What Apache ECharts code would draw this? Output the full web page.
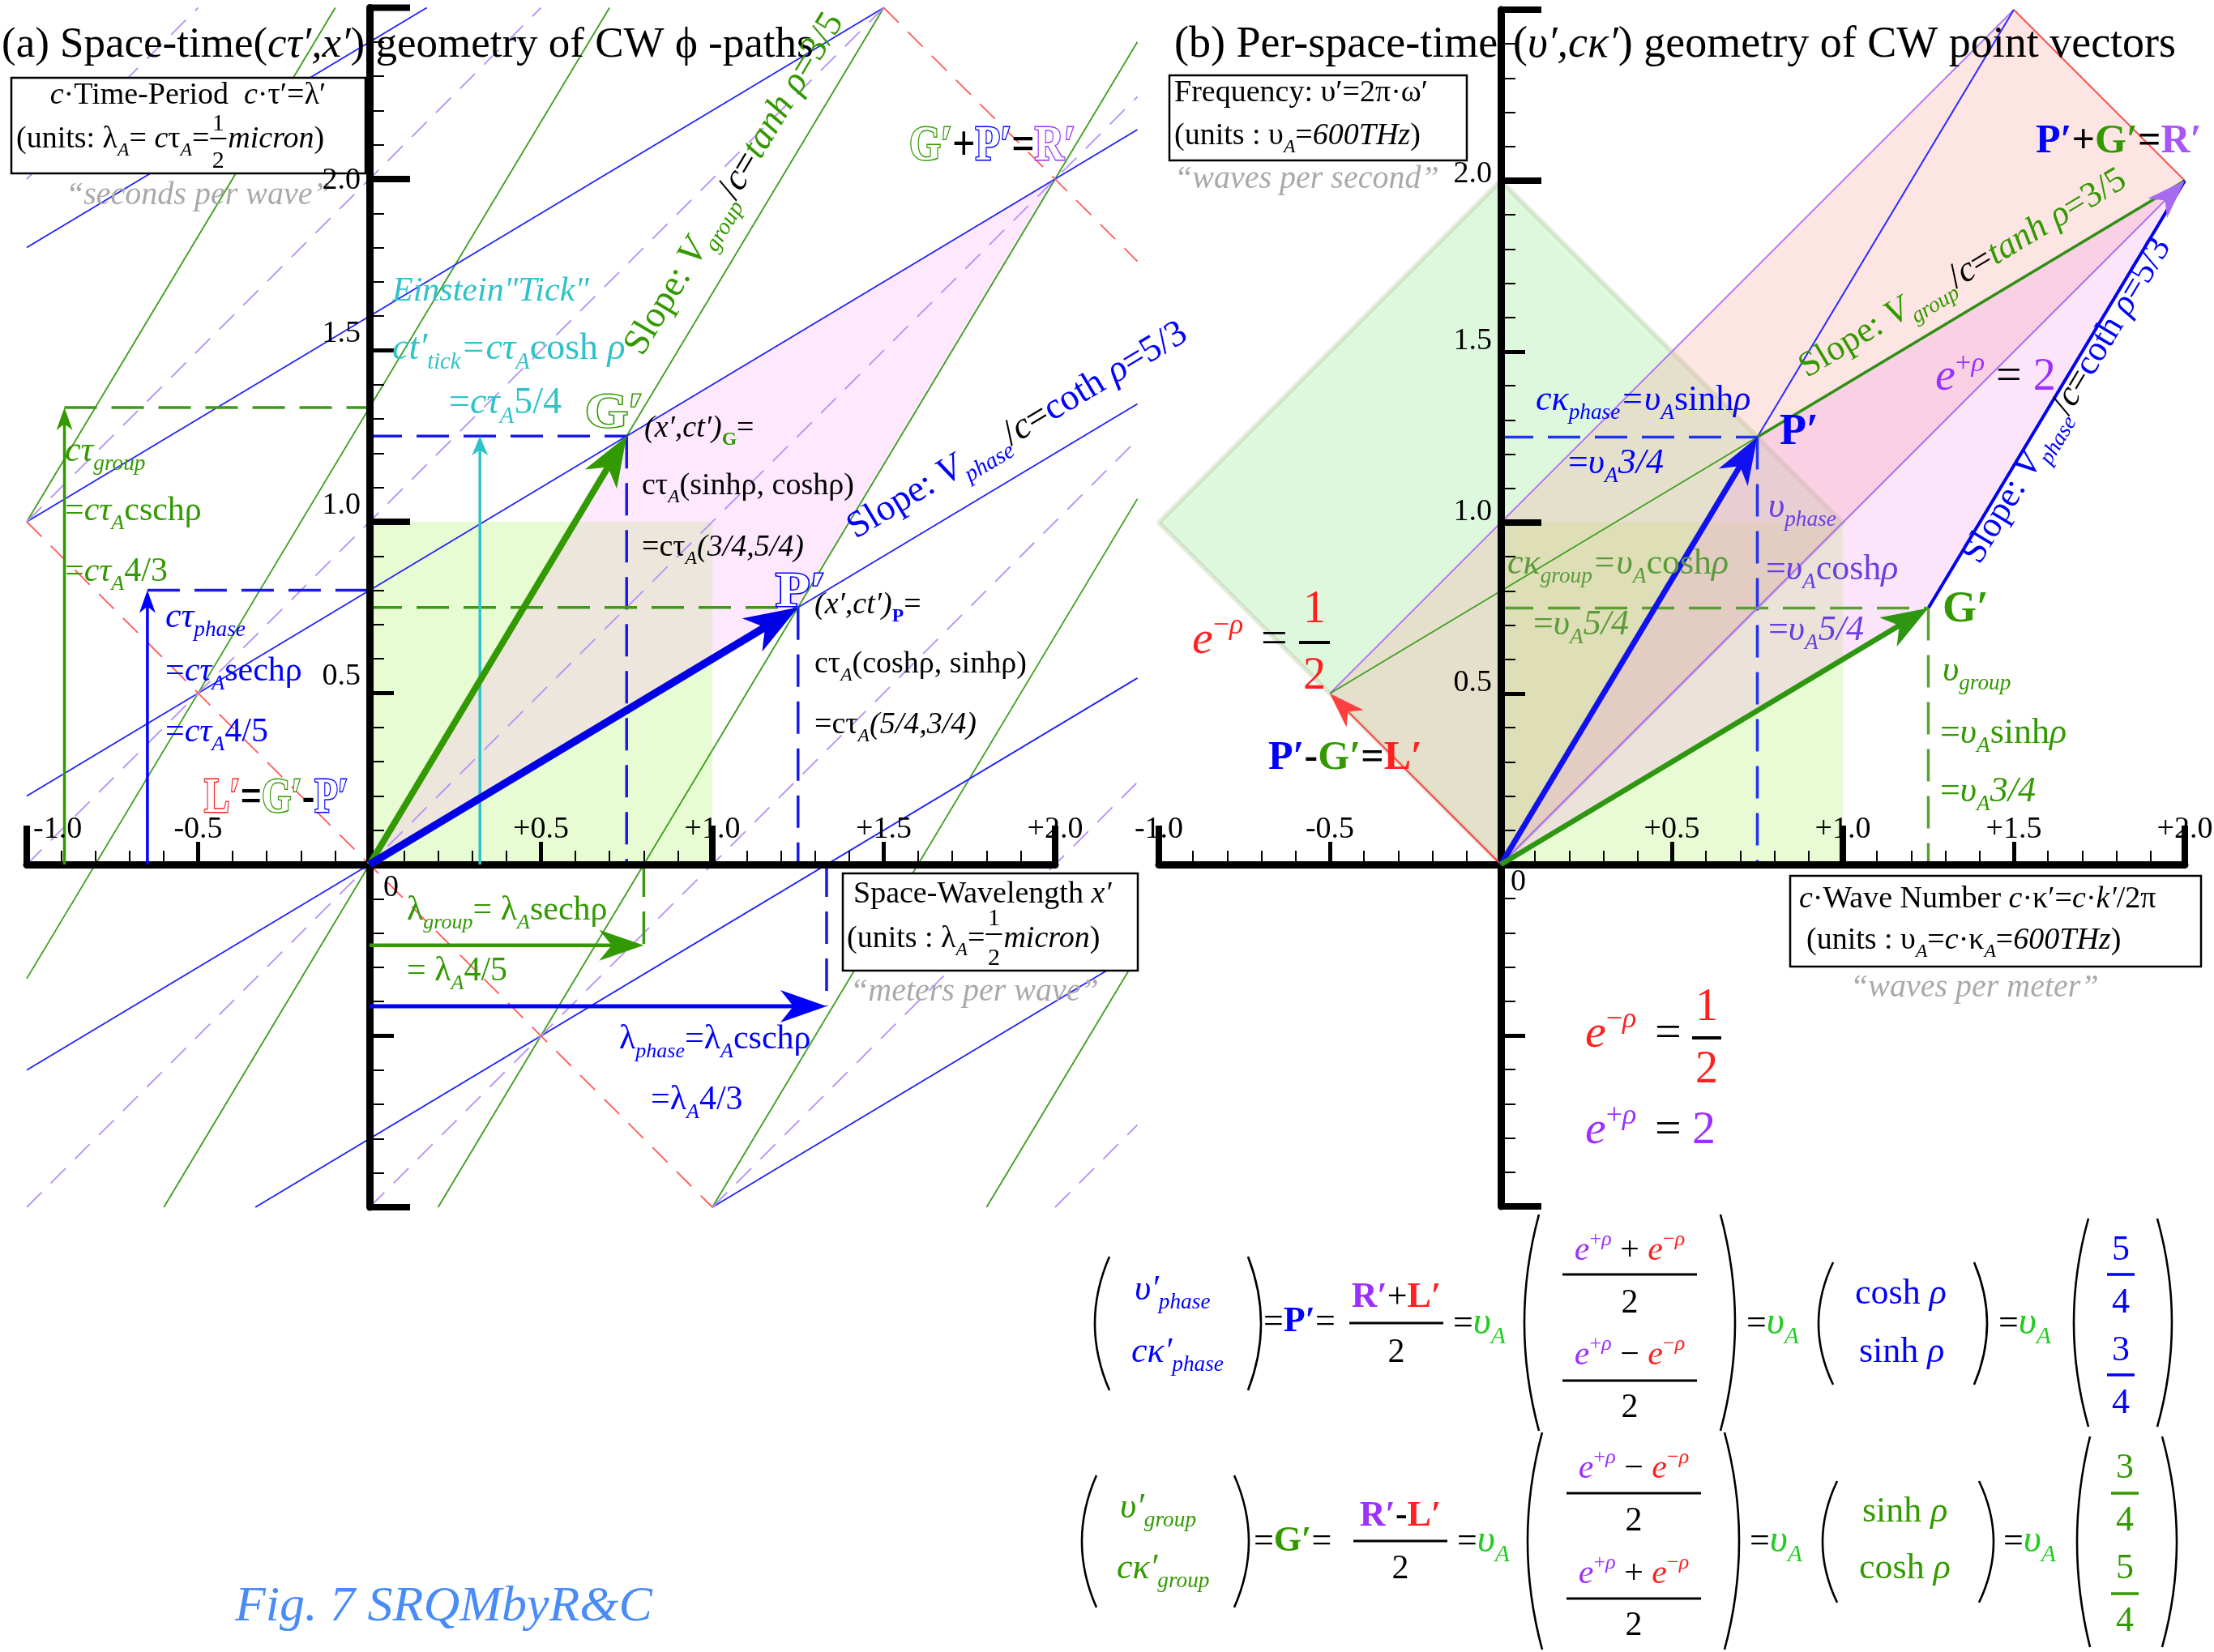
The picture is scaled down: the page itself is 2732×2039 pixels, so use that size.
<!DOCTYPE html>
<html>
<head>
<meta charset="utf-8">
<title>CW space-time and per-space-time geometry</title>
<script src="https://cdn.jsdelivr.net/npm/echarts@6/dist/echarts.min.js"></script>
<style>
html,body{margin:0;padding:0;background:#fff;}
#chart{width:2732px;height:2039px;}
</style>
</head>
<body>
<div id="chart"></div>
<script>
// ---------------- Panel (a): space-time (x′, cτ′), units cτ_A = λ_A ----------------
const ptG_a = [0.75, 1.25];      // (x′,ct′)_G = cτ_A(3/4, 5/4)
const ptP_a = [1.25, 0.75];      // (x′,ct′)_P = cτ_A(5/4, 3/4)
const ptR_a = [2.0, 2.0];        // G′+P′ = R′
const tauGroup = 1.3333;         // cτ_group = cτ_A·4/3
const tauPhase = 0.8;            // cτ_phase = cτ_A·4/5
const lambdaGroup = 0.8;         // λ_group = λ_A·4/5
const lambdaPhase = 1.3333;      // λ_phase = λ_A·4/3
const tickTime = 1.25;           // ct′_tick = cτ_A·5/4

// group world lines (slope 5/3) and phase fronts (slope 3/5): [x0, y0, x1, y1]
const groupLines = [
  [-1, 1, -0.1, 2.5], [-1, -0.333, 0.7, 2.5], [-0.6, -1, 1.5, 2.5],
  [0.2, -1, 2.24, 2.4], [1.0, -1, 2.24, 1.067], [1.8, -1, 2.24, -0.267]
];
const phaseLines = [
  [-1, 1.8, 0.167, 2.5], [-1, 1.0, 1.5, 2.5], [-1, 0.2, 2.24, 2.144],
  [-1, -0.6, 2.24, 1.344], [-0.333, -1, 2.24, 0.544], [1.0, -1, 2.24, -0.256]
];
// light-cone lines: right-moving (slope +1) and left-moving (slope −1)
const coneRight = [
  [-1, 2, -0.5, 2.5], [-1, 1, 0.5, 2.5], [-1, 0, 1.5, 2.5], [-1, -1, 2.24, 2.24],
  [0, -1, 2.24, 1.24], [1, -1, 2.24, 0.24], [2, -1, 2.24, -0.76]
];
const coneLeft = [[-1, 1, 1, -1], [1.5, 2.5, 2.24, 1.76]];

// ---------------- Panel (b): per-space-time (cκ′, υ′), units υ_A ----------------
const ptP_b = [0.75, 1.25];      // P′ = υ_A(sinhρ, coshρ)
const ptG_b = [1.25, 0.75];      // G′ = υ_A(coshρ, sinhρ)
const ptR_b = [2.0, 2.0];        // R′ = P′+G′
const ptL_b = [-0.5, 0.5];       // L′ = P′−G′
const ptRL_b = [1.5, 2.5];       // R′+L′ = 2P′

const unitSquare = [[0, 0], [1, 0], [1, 1], [0, 1]];
const unitDiamond = [[0, 0], [1, 1], [0, 2], [-1, 1]];

// axis ticks and labels
const xTickVals = [-1, -0.5, 0.5, 1, 1.5, 2];
const xTickText = ['-1.0', '-0.5', '+0.5', '+1.0', '+1.5', '+2.0'];
const yTickVals = [0.5, 1, 1.5, 2];
const yTickText = ['0.5', '1.0', '1.5', '2.0'];
const bigTicksX = [-1, 1, 2];
const bigTicksY = [-1, 1, 2, 2.5];

// ---------------- colours ----------------
const K = '#000000', BL = '#0000ff', GR = '#339900', RD = '#ff2020', PU = '#9b30ff',
      CY = '#2fc2c8', GY = '#a9a9a9', VI = '#6a3fe0', MG = '#5c9a3c', LG = '#22cc22';

const SERIF = '"Liberation Serif","Times New Roman",Times,serif';

// ---------------- series builders ----------------
function segSeries(gi, segs, st, z) {
  return {
    type: 'custom', coordinateSystem: 'cartesian2d', xAxisIndex: gi, yAxisIndex: gi,
    clip: false, silent: true, z: z, data: segs,
    renderItem: (p, api) => {
      const a = api.coord([api.value(0), api.value(1)]);
      const b = api.coord([api.value(2), api.value(3)]);
      return { type: 'line', shape: { x1: a[0], y1: a[1], x2: b[0], y2: b[1] },
        style: { stroke: st.color, lineWidth: st.width, lineDash: st.dash || null, lineCap: 'butt' } };
    }
  };
}
function polySeries(gi, polys, st, z) {
  return {
    type: 'custom', coordinateSystem: 'cartesian2d', xAxisIndex: gi, yAxisIndex: gi,
    clip: false, silent: true, z: z, data: polys.map(p => p.flat()),
    renderItem: (p, api) => {
      const n = polys[p.dataIndex].length, pts = [];
      for (let i = 0; i < n; i++) pts.push(api.coord([api.value(2 * i), api.value(2 * i + 1)]));
      return { type: 'polygon', shape: { points: pts },
        style: { fill: st.fill, stroke: st.stroke || null, lineWidth: st.lw || 0, lineJoin: 'round' } };
    }
  };
}
function arrowSeries(gi, segs, st, z) {
  return {
    type: 'custom', coordinateSystem: 'cartesian2d', xAxisIndex: gi, yAxisIndex: gi,
    clip: false, silent: true, z: z, data: segs,
    renderItem: (p, api) => {
      const a = api.coord([api.value(0), api.value(1)]);
      const b = api.coord([api.value(2), api.value(3)]);
      const dx = b[0] - a[0], dy = b[1] - a[1], L = Math.hypot(dx, dy);
      const ux = dx / L, uy = dy / L, nx = -uy, ny = ux, hl = st.head, hw = st.headW;
      const bx = b[0] - ux * hl, by = b[1] - uy * hl;
      const notch = [b[0] - ux * hl * 0.72, b[1] - uy * hl * 0.72];
      return { type: 'group', children: [
        { type: 'line', shape: { x1: a[0], y1: a[1], x2: b[0] - ux * hl * 0.6, y2: b[1] - uy * hl * 0.6 },
          style: { stroke: st.color, lineWidth: st.width } },
        { type: 'polygon', shape: { points: [b, [bx + nx * hw, by + ny * hw], notch, [bx - nx * hw, by - ny * hw]] },
          style: { fill: st.color } }
      ] };
    }
  };
}
function bigTickSeries(gi, vals, isX, len, lw) {
  return {
    type: 'custom', coordinateSystem: 'cartesian2d', xAxisIndex: gi, yAxisIndex: gi,
    clip: false, silent: true, z: 6, data: vals.map(v => isX ? [v, 0] : [0, v]),
    renderItem: (p, api) => {
      const c = api.coord([api.value(0), api.value(1)]);
      return { type: 'line',
        shape: isX ? { x1: c[0], y1: c[1], x2: c[0], y2: c[1] - len } : { x1: c[0], y1: c[1], x2: c[0] + len, y2: c[1] },
        style: { stroke: '#000', lineWidth: lw } };
    }
  };
}
// tick labels placed beside the crossing axes
function tickLabelSeries(gi, vals, texts, isX, lift, leftFirst, topLift) {
  return {
    type: 'custom', coordinateSystem: 'cartesian2d', xAxisIndex: gi, yAxisIndex: gi,
    clip: false, silent: true, z: 60, data: vals.map(v => isX ? [v, 0] : [0, v]),
    renderItem: (p, api) => {
      const c = api.coord([api.value(0), api.value(1)]);
      const first = leftFirst && p.dataIndex === 0;
      const last = p.dataIndex === vals.length - 1;
      const dy = isX ? -24 : -(last && topLift !== undefined ? topLift : lift);
      return { type: 'text',
        x: isX ? c[0] + (first ? 8 : 0) : c[0] - 11,
        y: c[1] + dy,
        style: { text: texts[p.dataIndex], font: '38px ' + SERIF, fill: '#000',
          textAlign: isX ? (first ? 'left' : 'center') : 'right',
          verticalAlign: isX ? 'bottom' : 'middle' } };
    }
  };
}

// ---------------- text typesetting (graphic elements) ----------------
const mctx = document.createElement('canvas').getContext('2d');
function fontOf(sz, it, bd) { return (it ? 'italic ' : '') + (bd ? 'bold ' : '') + sz.toFixed(1) + 'px ' + SERIF; }
mctx.font = fontOf(100, false, false);
mctx.textBaseline = 'middle';
let MID_K = mctx.measureText('H').actualBoundingBoxDescent / 100;
if (!(MID_K > 0.15 && MID_K < 0.6)) MID_K = 0.33;
mctx.textBaseline = 'alphabetic';

// markup: | toggles italic, _{..} subscript, ^{..} superscript
function parseMarkup(src, it0) {
  const out = []; let it = it0, mode = 0, buf = '';
  const flush = () => { if (buf) { out.push({ t: buf, it, mode }); buf = ''; } };
  for (let i = 0; i < src.length; i++) {
    const ch = src[i];
    if (ch === '|') { flush(); it = !it; }
    else if ((ch === '_' || ch === '^') && src[i + 1] === '{') { flush(); mode = ch === '_' ? 1 : 2; i++; }
    else if (ch === '}' && mode) { flush(); mode = 0; }
    else buf += ch;
  }
  flush();
  return out;
}
function runElems(parts, x, y) {
  const els = []; let cx = x;
  parts.forEach(([src, st]) => {
    const s = st.s;
    parseMarkup(src, !!st.i).forEach(tk => {
      const sz = tk.mode ? s * 0.62 : s;
      const dy = tk.mode === 1 ? 0.26 * s : tk.mode === 2 ? -0.42 * s : 0;
      const font = fontOf(sz, tk.it, !!st.b);
      mctx.font = font;
      const w = mctx.measureText(tk.t).width;
      els.push({ type: 'text', x: cx, y: y + dy - MID_K * sz, z: 50, silent: true,
        style: { text: tk.t, font: font, fill: st.o ? '#ffffff' : st.c, stroke: st.o ? st.o : null,
          lineWidth: st.o ? 3 : 0, textAlign: 'left', verticalAlign: 'middle' } });
      cx += w;
    });
  });
  return { els, w: cx - x };
}
function T(parts, x, y, align) {
  let x0 = x;
  if (align) {
    const w = runElems(parts, 0, 0).w;
    x0 = align === 'center' ? x - w / 2 : x - w;
  }
  return runElems(parts, x0, y).els;
}
function rotT(parts, x, y, deg) {
  return [{ type: 'group', x, y, rotation: deg * Math.PI / 180, children: runElems(parts, 0, 0).els }];
}
function fitT(parts, x, y, width) {
  const r = runElems(parts, 0, 0);
  return [{ type: 'group', x, y, scaleX: width / r.w, children: r.els }];
}
function fracEls(num, den, cx, barY, half, numBase, denBase, barColor, lw) {
  return [...T(num, cx, numBase, 'center'), ...T(den, cx, denBase, 'center'),
    { type: 'line', z: 50, silent: true, shape: { x1: cx - half, y1: barY, x2: cx + half, y2: barY },
      style: { stroke: barColor, lineWidth: lw } }];
}
function parenEl(xe, xa, y0, y1) {
  return { type: 'bezierCurve', z: 50, silent: true,
    shape: { x1: xe, y1: y0, x2: xe, y2: y1, cpx1: 2 * xa - xe, cpy1: (y0 + y1) / 2 },
    style: { stroke: '#000', lineWidth: 2.6, fill: null } };
}
function boxEl(x, y, w, h) {
  return { type: 'rect', z: 45, silent: true, shape: { x, y, width: w, height: h },
    style: { fill: '#ffffff', stroke: '#000', lineWidth: 2.5 } };
}

const E = [];
const st = (c, s, extra) => Object.assign({ c, s }, extra || {});

// ----- panel (a) texts -----
E.push(...T([['(a) Space-time(|cτ′,x′|) geometry of CW ϕ -paths', st(K, 53)]], 2, 71));
E.push(boxEl(14, 96, 437, 118));
E.push(...T([['|c|·Time-Period  |c|·τ′=λ′', st(K, 38)]], 232, 128, 'center'));
{
  const r = runElems([['(units: λ_{|A|}= |c|τ_{|A|}=', st(K, 38)]], 20, 182);
  E.push(...r.els);
  const fx = 20 + r.w + 11;
  E.push(...fracEls([['1', st(K, 30)]], [['2', st(K, 30)]], fx, 171, 10, 161, 207, K, 2));
  E.push(...runElems([['|micron|)', st(K, 38)]], fx + 12, 182).els);
}
E.push(...T([['|“seconds per wave”|', st(GY, 40)]], 81, 252));
E.push(...T([['|Einstein"Tick"|', st(CY, 42)]], 484, 371));
E.push(...T([['|ct′|_{|tick|}|=cτ|_{|A|}cosh |ρ|', st(CY, 46)]], 484, 443));
E.push(...T([['=|cτ|_{|A|}5/4', st(CY, 46)]], 554, 510));
E.push(...fitT([['G′', st(GR, 62, { b: 1, o: GR })]], 722, 528, 72));
E.push(...T([['|(x′,ct′)|', st(K, 38)], ['_{G}', st(GR, 38, { b: 1 })], ['=', st(K, 38)]], 795, 539));
E.push(...T([['cτ_{|A|}(sinhρ, coshρ)', st(K, 38)]], 792, 610));
E.push(...T([['=cτ_{|A|}|(3/4,5/4)|', st(K, 38)]], 792, 686));
E.push(...fitT([['P′', st(BL, 62, { b: 1, o: BL })]], 957, 749, 62));
E.push(...T([['|(x′,ct′)|', st(K, 38)], ['_{P}', st(BL, 38, { b: 1 })], ['=', st(K, 38)]], 1005, 757));
E.push(...T([['cτ_{|A|}(coshρ, sinhρ)', st(K, 38)]], 1005, 830));
E.push(...T([['=cτ_{|A|}|(5/4,3/4)|', st(K, 38)]], 1005, 905));
E.push(...rotT([['Slope: |V|_{|phase|}', st(BL, 46)], ['/|c|=', st(K, 46)], ['coth |ρ|=5/3', st(BL, 46)]], 1056, 666, 30.96));
E.push(...rotT([['Slope: |V|_{|group|}', st(GR, 46)], ['/|c|=', st(K, 46)], ['|tanh ρ|=3/5', st(GR, 46)]], 793, 441, 59.04));
E.push(...fitT([['G′', st(GR, 62, { b: 1, o: GR })], ['+', st(K, 62, { b: 1 })], ['P′', st(BL, 62, { b: 1, o: BL })],
  ['=', st(K, 62, { b: 1 })], ['R′', st(PU, 62, { b: 1, o: PU })]], 1122, 198, 205));
E.push(...T([['|cτ|_{|group|}', st(GR, 44)]], 80, 569));
E.push(...T([['=|cτ|_{|A|}cschρ', st(GR, 42)]], 80, 642));
E.push(...T([['=|cτ|_{|A|}4/3', st(GR, 42)]], 80, 717));
E.push(...T([['|cτ|_{|phase|}', st(BL, 44)]], 204, 774));
E.push(...T([['=|cτ|_{|A|}sechρ', st(BL, 42)]], 204, 840));
E.push(...T([['=|cτ|_{|A|}4/5', st(BL, 42)]], 204, 915));
E.push(...fitT([['L′', st(RD, 62, { b: 1, o: RD })], ['=', st(K, 62, { b: 1 })], ['G′', st(GR, 62, { b: 1, o: GR })],
  ['-', st(K, 62, { b: 1 })], ['P′', st(BL, 62, { b: 1, o: BL })]], 252, 1003, 178));
E.push(...T([['λ_{|group|}= λ_{|A|}sechρ', st(GR, 42)]], 502, 1135));
E.push(...T([['= λ_{|A|}4/5', st(GR, 42)]], 502, 1210));
E.push(...T([['λ_{|phase|}=λ_{|A|}cschρ', st(BL, 42)]], 764, 1294));
E.push(...T([['=λ_{|A|}4/3', st(BL, 42)]], 803, 1369));
E.push(boxEl(1040, 1078, 364, 120));
E.push(...T([['Space-Wavelength |x′|', st(K, 38)]], 1053, 1114));
{
  const r = runElems([['(units : λ_{|A|}=', st(K, 38)]], 1045, 1169);
  E.push(...r.els);
  const fx = 1045 + r.w + 11;
  E.push(...fracEls([['1', st(K, 30)]], [['2', st(K, 30)]], fx, 1153, 10, 1142, 1191, K, 2));
  E.push(...runElems([['|micron|)', st(K, 38)]], fx + 12, 1169).els);
}
E.push(...T([['|“meters per wave”|', st(GY, 40)]], 1049, 1235));
E.push(...T([['0', st(K, 38)]], 473, 1106));
E.push(...T([['|Fig. 7 SRQMbyR&C|', st('#4a8cf7', 62)]], 290, 2001));

// ----- panel (b) texts -----
E.push(...T([['(b) Per-space-time', st(K, 54)]], 1449, 71));
E.push(...T([['(|υ′,cκ′|) geometry of CW point vectors', st(K, 54)]], 1867, 71));
E.push(boxEl(1443, 93, 367, 105));
E.push(...T([['Frequency: υ′=2π·ω′', st(K, 38)]], 1449, 125));
E.push(...T([['(units : υ_{|A|}=|600THz|)', st(K, 38)]], 1449, 178));
E.push(...T([['|“waves per second”|', st(GY, 40)]], 1449, 232));
E.push(...T([['P′', st(BL, 50, { b: 1 })], ['+', st(K, 50, { b: 1 })], ['G′', st(GR, 50, { b: 1 })],
  ['=', st(K, 50, { b: 1 })], ['R′', st('#a855f7', 50, { b: 1 })]], 2512, 189));
E.push(...rotT([['Slope: |V|_{|group|}', st(GR, 44)], ['/|c|=', st(K, 44)], ['|tanh ρ|=3/5', st(GR, 44)]], 2230, 467, 30.96));
E.push(...rotT([['Slope: |V|_{|phase|}', st(BL, 44)], ['/|c|=', st(K, 44)], ['coth |ρ|=5/3', st(BL, 44)]], 2443, 698, 59.04));
E.push(...T([['|e|^{+|ρ|}', st(PU, 56)], [' = ', st(K, 56)], ['2', st(PU, 56)]], 2388, 482));
E.push(...T([['|cκ|_{|phase|}|=υ|_{|A|}sinh|ρ|', st(BL, 44)]], 1895, 506));
E.push(...T([['=|υ|_{|A|}|3/4|', st(BL, 44)]], 1935, 584));
E.push(...T([['P′', st(BL, 54, { b: 1 })]], 2196, 549));
E.push(...T([['|υ|_{|phase|}', st(VI, 44)]], 2182, 638));
E.push(...T([['=|υ|_{|A|}cosh|ρ|', st(VI, 44)]], 2179, 715));
E.push(...T([['=|υ|_{|A|}|5/4|', st(VI, 44)]], 2182, 790));
E.push(...T([['|cκ|_{|group|}|=υ|_{|A|}cosh|ρ|', st(MG, 44)]], 1860, 708));
E.push(...T([['=|υ|_{|A|}|5/4|', st(MG, 44)]], 1892, 783));
E.push(...T([['G′', st(GR, 54, { b: 1 })]], 2397, 768));
E.push(...T([['|υ|_{|group|}', st(GR, 44)]], 2397, 840));
E.push(...T([['=|υ|_{|A|}sinh|ρ|', st(GR, 44)]], 2394, 917));
E.push(...T([['=|υ|_{|A|}|3/4|', st(GR, 44)]], 2394, 989));
E.push(...T([['|e|^{−|ρ|}', st(RD, 58)]], 1471, 807));
E.push(...T([['=', st(K, 58)]], 1556, 807));
E.push(...fracEls([['1', st(RD, 56)]], [['2', st(RD, 56)]], 1622, 793, 19, 769, 851, K, 4));
E.push(...T([['P′', st(BL, 50, { b: 1 })], ['-', st(K, 50, { b: 1 })], ['G′', st(GR, 50, { b: 1 })],
  ['=', st(K, 50, { b: 1 })], ['L′', st(RD, 50, { b: 1 })]], 1565, 950));
E.push(boxEl(2209, 1081, 507, 112));
E.push(...T([['|c|·Wave Number |c|·κ′=|c|·|k′|/2π', st(K, 38)]], 2220, 1120));
E.push(...T([['(units : υ_{|A|}=|c|·κ_{|A|}=|600THz|)', st(K, 38)]], 2229, 1171));
E.push(...T([['|“waves per meter”|', st(GY, 40)]], 2283, 1230));
E.push(...T([['0', st(K, 38)]], 1864, 1099));
E.push(...T([['|e|^{−|ρ|}', st(RD, 58)]], 1956, 1293));
E.push(...T([['=', st(K, 58)]], 2042, 1293));
E.push(...fracEls([['1', st(RD, 56)]], [['2', st(RD, 56)]], 2106, 1281, 18, 1260, 1337, K, 4));
E.push(...T([['|e|^{+|ρ|}', st(PU, 58)]], 1956, 1412));
E.push(...T([['=', st(K, 58)]], 2042, 1412));
E.push(...T([['2', st(PU, 58)]], 2088, 1412));

// ----- matrix relations for P′ and G′ -----
const EQ = 44;
const eqUA = [['=', st(K, EQ)], ['|υ|_{|A|}', st(LG, 48)]];
const ePM = op => [['|e|^{+|ρ|}', st(PU, 42)], [' ' + op + ' ', st(K, 42)], ['|e|^{−|ρ|}', st(RD, 42)]];
const two = [['2', st(K, 42)]];
// P′ row
E.push(parenEl(1369, 1351, 1551, 1716), parenEl(1540, 1556, 1551, 1716));
E.push(...T([['|υ′|_{|phase|}', st(BL, EQ)]], 1400, 1604));
E.push(...T([['|cκ′|_{|phase|}', st(BL, EQ)]], 1396, 1681));
E.push(...T([['=', st(K, EQ)], ['P′', st(BL, EQ, { b: 1 })], ['=', st(K, EQ)]], 1559, 1644));
E.push(...fracEls([['R′', st(PU, EQ, { b: 1 })], ['+', st(K, EQ)], ['L′', st(RD, EQ, { b: 1 })]], two, 1723, 1633, 58, 1614, 1681, K, 3));
E.push(...T(eqUA, 1793, 1646));
E.push(parenEl(1899, 1881, 1499, 1766), parenEl(2123, 2141, 1499, 1766));
E.push(...fracEls(ePM('+'), two, 2011, 1573, 83, 1555, 1620, K, 3));
E.push(...fracEls(ePM('−'), two, 2011, 1704, 83, 1684, 1749, K, 3));
E.push(...T(eqUA, 2155, 1646));
E.push(parenEl(2262, 2244, 1558, 1709), parenEl(2436, 2452, 1558, 1709));
E.push(...T([['cosh |ρ|', st(BL, EQ)]], 2289, 1609));
E.push(...T([['sinh |ρ|', st(BL, EQ)]], 2294, 1681));
E.push(...T(eqUA, 2466, 1646));
E.push(parenEl(2577, 2559, 1504, 1761), parenEl(2662, 2680, 1504, 1761));
E.push(...fracEls([['5', st(BL, EQ)]], [['4', st(BL, EQ)]], 2617, 1573, 17, 1555, 1620, BL, 3.5));
E.push(...fracEls([['3', st(BL, EQ)]], [['4', st(BL, EQ)]], 2617, 1697, 17, 1679, 1744, BL, 3.5));
// G′ row
E.push(parenEl(1353, 1335, 1821, 1984), parenEl(1523, 1541, 1821, 1984));
E.push(...T([['|υ′|_{|group|}', st(GR, EQ)]], 1382, 1873));
E.push(...T([['|cκ′|_{|group|}', st(GR, EQ)]], 1378, 1948));
E.push(...T([['=', st(K, EQ)], ['G′', st(GR, EQ, { b: 1 })], ['=', st(K, EQ)]], 1547, 1915));
E.push(...fracEls([['R′', st(PU, EQ, { b: 1 })], ['-', st(K, EQ, { b: 1 })], ['L′', st(RD, EQ, { b: 1 })]], two, 1728, 1902, 58, 1884, 1948, K, 3));
E.push(...T(eqUA, 1798, 1915));
E.push(parenEl(1903, 1885, 1768, 2036), parenEl(2128, 2146, 1768, 2036));
E.push(...fracEls(ePM('−'), two, 2016, 1843, 83, 1824, 1889, K, 3));
E.push(...fracEls(ePM('+'), two, 2016, 1973, 83, 1954, 2018, K, 3));
E.push(...T(eqUA, 2159, 1915));
E.push(parenEl(2267, 2249, 1828, 1978), parenEl(2442, 2460, 1828, 1978));
E.push(...T([['sinh |ρ|', st(GR, EQ)]], 2298, 1878));
E.push(...T([['cosh |ρ|', st(GR, EQ)]], 2294, 1948));
E.push(...T(eqUA, 2472, 1915));
E.push(parenEl(2579, 2563, 1773, 2033), parenEl(2668, 2686, 1773, 2033));
E.push(...fracEls([['3', st(GR, EQ)]], [['4', st(GR, EQ)]], 2622, 1843, 17, 1824, 1889, GR, 3.5));
E.push(...fracEls([['5', st(GR, EQ)]], [['4', st(GR, EQ)]], 2622, 1967, 17, 1948, 2013, GR, 3.5));

// ---------------- axes ----------------
function xAxisCfg(gi) {
  return { gridIndex: gi, type: 'value', min: -1, max: 2, interval: 0.5, z: 3,
    axisLine: { show: true, onZero: true, lineStyle: { color: '#000', width: 9 } },
    axisTick: { show: true, inside: true, length: 28, lineStyle: { color: '#000', width: 5 } },
    minorTick: { show: true, splitNumber: 5, length: 17, lineStyle: { color: '#000', width: 2 } },
    splitLine: { show: false }, minorSplitLine: { show: false }, axisLabel: { show: false } };
}
function yAxisCfg(gi) {
  return { gridIndex: gi, type: 'value', min: -1, max: 2.5, interval: 0.5, z: 3,
    axisLine: { show: true, onZero: true, lineStyle: { color: '#000', width: 9 } },
    axisTick: { show: true, inside: true, length: 30, lineStyle: { color: '#000', width: 5 } },
    minorTick: { show: true, splitNumber: 5, length: 18, lineStyle: { color: '#000', width: 2 } },
    splitLine: { show: false }, minorSplitLine: { show: false }, axisLabel: { show: false } };
}

// ---------------- series ----------------
const seg = (a, b) => [a[0], a[1], b[0], b[1]];
const O = [0, 0];
const series = [
  // panel (a)
  polySeries(0, [unitSquare], { fill: '#e8fcd4' }, 1),
  polySeries(0, [[O, ptP_a, ptR_a, ptG_a]], { fill: 'rgba(247,166,247,0.26)' }, 1),
  segSeries(0, groupLines, { color: '#3d9e1e', width: 1.8 }, 2),
  segSeries(0, phaseLines, { color: '#2020ff', width: 1.8 }, 2),
  segSeries(0, coneRight, { color: '#b591f7', width: 1.8, dash: [26, 16] }, 2),
  segSeries(0, coneLeft, { color: '#ff5a5a', width: 1.8, dash: [26, 16] }, 2),
  segSeries(0, [
    [0, ptG_a[1], ptG_a[0], ptG_a[1]], [ptG_a[0], ptG_a[1], ptG_a[0], 0],
    [ptP_a[0], ptP_a[1], ptP_a[0], 0], [-0.648, tauPhase, 0, tauPhase],
    [lambdaPhase, 0, lambdaPhase, -0.414]
  ], { color: '#1a1aee', width: 3.5, dash: [40, 18] }, 3),
  segSeries(0, [
    [-0.89, tauGroup, 0, tauGroup], [0, ptP_a[1], ptP_a[0], ptP_a[1]],
    [lambdaGroup, 0, lambdaGroup, -0.236]
  ], { color: '#3c9a14', width: 3.5, dash: [40, 18] }, 3),
  arrowSeries(0, [[-0.89, 0, -0.89, tauGroup]], { color: GR, width: 3.5, head: 28, headW: 10 }, 4),
  arrowSeries(0, [[-0.648, 0, -0.648, tauPhase]], { color: BL, width: 3.5, head: 28, headW: 10 }, 4),
  arrowSeries(0, [[0.322, 0, 0.322, tickTime]], { color: CY, width: 3.5, head: 24, headW: 10 }, 4),
  arrowSeries(0, [[0, -0.236, lambdaGroup, -0.236]], { color: GR, width: 4.5, head: 55, headW: 19 }, 4),
  arrowSeries(0, [[0, -0.414, lambdaPhase, -0.414]], { color: BL, width: 5, head: 57, headW: 20 }, 4),
  arrowSeries(0, [seg(O, ptG_a)], { color: GR, width: 8, head: 62, headW: 23 }, 7),
  arrowSeries(0, [seg(O, ptP_a)], { color: '#0000e6', width: 9.5, head: 66, headW: 24 }, 7),
  bigTickSeries(0, bigTicksX, true, 48, 8),
  bigTickSeries(0, bigTicksY, false, 50, 8),
  tickLabelSeries(0, xTickVals, xTickText, true, 0, true),
  tickLabelSeries(0, yTickVals, yTickText, false, 20, false, -2),

  // panel (b)
  polySeries(1, [unitDiamond], { fill: 'rgba(160,235,160,0.35)', stroke: 'rgba(175,195,150,0.35)', lw: 6 }, 1),
  polySeries(1, [unitSquare], { fill: 'rgba(200,245,150,0.40)' }, 1),
  polySeries(1, [[O, ptL_b, ptRL_b, ptR_b]], { fill: 'rgba(245,170,160,0.30)' }, 1),
  polySeries(1, [[O, ptG_b, ptR_b, ptP_b]], { fill: 'rgba(245,150,235,0.25)' }, 1),
  segSeries(1, [seg(ptL_b, ptRL_b)], { color: '#b47cf2', width: 2 }, 2),
  segSeries(1, [seg(ptRL_b, ptR_b)], { color: '#ff5050', width: 2 }, 2),
  segSeries(1, [seg(ptP_b, ptRL_b)], { color: '#2a2aff', width: 2 }, 2),
  segSeries(1, [seg(ptL_b, ptP_b)], { color: '#3d9e1e', width: 1.6 }, 2),
  segSeries(1, [seg(ptP_b, ptR_b)], { color: '#2f8f14', width: 3.5 }, 3),
  segSeries(1, [seg(ptG_b, ptR_b)], { color: '#0000ee', width: 4 }, 3),
  segSeries(1, [[0, ptP_b[1], ptP_b[0], ptP_b[1]], [ptP_b[0], ptP_b[1], ptP_b[0], 0]],
    { color: '#2233ee', width: 3.5, dash: [40, 18] }, 3),
  segSeries(1, [[0, ptG_b[1], ptG_b[0], ptG_b[1]], [ptG_b[0], ptG_b[1], ptG_b[0], 0]],
    { color: '#5aa032', width: 3.5, dash: [40, 18] }, 3),
  arrowSeries(1, [seg(O, ptR_b)], { color: '#a66cf0', width: 2, head: 48, headW: 17 }, 4),
  arrowSeries(1, [seg(O, ptL_b)], { color: '#ff4040', width: 2, head: 44, headW: 15 }, 4),
  arrowSeries(1, [seg(O, ptP_b)], { color: '#1010f0', width: 7, head: 58, headW: 21 }, 7),
  arrowSeries(1, [seg(O, ptG_b)], { color: '#2f9612', width: 6.5, head: 58, headW: 21 }, 7),
  bigTickSeries(1, bigTicksX, true, 48, 8),
  bigTickSeries(1, bigTicksY, false, 50, 8),
  tickLabelSeries(1, xTickVals, xTickText, true, 0, false),
  tickLabelSeries(1, yTickVals, yTickText, false, 13, false, 8)
];

const chart = echarts.init(document.getElementById('chart'), null, { renderer: 'canvas', width: 2732, height: 2039 });
chart.setOption({
  animation: false,
  backgroundColor: '#ffffff',
  grid: [
    { left: 33, top: 9.5, width: 1269, height: 1480.5, containLabel: false, outerBoundsMode: 'none' },
    { left: 1430, top: 12, width: 1266, height: 1477, containLabel: false, outerBoundsMode: 'none' }
  ],
  xAxis: [xAxisCfg(0), xAxisCfg(1)],
  yAxis: [yAxisCfg(0), yAxisCfg(1)],
  series: series,
  graphic: { elements: E }
});
</script>
</body>
</html>
